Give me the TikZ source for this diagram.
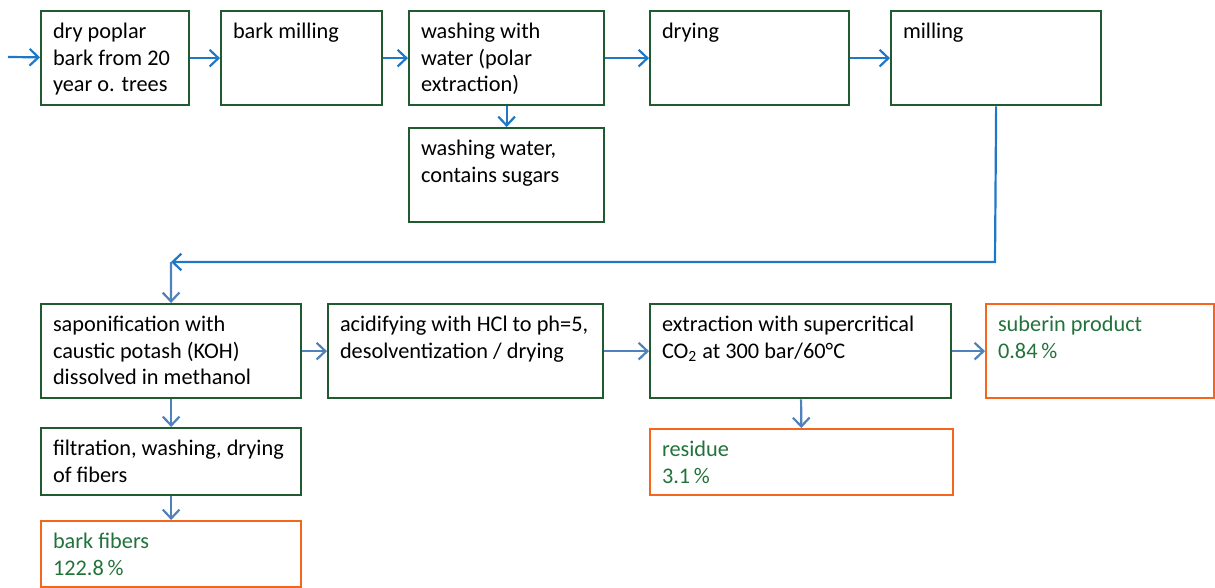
\documentclass[tikz,border=0pt]{standalone}
\usepackage{fontspec}
\setmainfont{Carlito}
\usepackage{tikz}
\usetikzlibrary{arrows.meta}
\definecolor{boxgreen}{HTML}{215A30}
\definecolor{outorange}{HTML}{F4661E}
\definecolor{outtext}{HTML}{23723C}
\definecolor{flowblue}{HTML}{1F77C6}
\definecolor{flowsteel}{HTML}{4F81BD}
\def\u{0.02cm}
\tikzset{
  box/.style={draw=boxgreen, line width=1.3pt, anchor=north west, inner sep=0pt},
  outbox/.style={box, draw=outorange},
  txt/.style={align=left, anchor=north west, inner xsep=7.2pt, inner ysep=7pt,
    font=\fontsize{12.7}{15.3}\selectfont},
  outtxt/.style={txt, text=outtext},
  flow/.style={draw=flowblue, line width=1.25pt, -{Straight Barb[length=5pt,width=9.5pt]}},
  flowl/.style={flow, draw=flowsteel},
}
\begin{document}
\begin{tikzpicture}[x=\u, y=-\u]
  \useasboundingbox (0,0) rectangle (1215,588);
  % first row
  \node[box, minimum width=148*\u, minimum height=94*\u,
    label={[txt]north west:dry poplar\\bark from 20\\year o. trees}] (bark) at (40,10) {};
  \node[box, minimum width=161*\u, minimum height=94*\u,
    label={[txt]north west:bark milling}] (bmill) at (220,10) {};
  \node[box, minimum width=195*\u, minimum height=94*\u,
    label={[txt]north west:washing with\\water (polar\\extraction)}] (wash) at (408,10) {};
  \node[box, minimum width=199*\u, minimum height=94*\u,
    label={[txt]north west:drying}] (dry) at (649,10) {};
  \node[box, minimum width=210*\u, minimum height=94*\u,
    label={[txt]north west:milling}] (mill) at (890,10) {};
  \node[box, minimum width=195*\u, minimum height=94*\u,
    label={[txt]north west:washing water,\\contains sugars}] (water) at (408,127) {};
  % second row
  \node[box, minimum width=260*\u, minimum height=94*\u,
    label={[txt]north west:saponification with\\caustic potash (KOH)\\dissolved in methanol}] (sapo) at (40,303) {};
  \node[box, minimum width=275*\u, minimum height=94*\u,
    label={[txt]north west:acidifying with HCl to ph=5,\\desolventization / drying}] (acid) at (327,303) {};
  \node[box, minimum width=301*\u, minimum height=94*\u,
    label={[txt]north west:extraction with supercritical\\CO\textsubscript{2} at 300 bar/60°C}] (extr) at (649,303) {};
  \node[outbox, minimum width=228*\u, minimum height=94*\u,
    label={[outtxt]north west:suberin product\\0.84\,\%}] (suberin) at (985,303) {};
  \node[box, minimum width=260*\u, minimum height=67*\u,
    label={[txt]north west:filtration, washing, drying\\of fibers}] (filt) at (40,427) {};
  \node[outbox, minimum width=260*\u, minimum height=66*\u,
    label={[outtxt]north west:bark fibers\\122.8\,\%}] (fibers) at (40,520) {};
  \node[outbox, minimum width=303*\u, minimum height=66*\u,
    label={[outtxt]north west:residue\\3.1\,\%}] (resid) at (649,428) {};
  % connectors
  \coordinate (feed) at (8,57);
  \coordinate (turnR) at (995,262);
  \coordinate (turnL) at (171,262);
  \draw[flow] (feed) -- (bark);
  \draw[flow] (bark) -- (bmill);
  \draw[flow] (bmill) -- (wash);
  \draw[flow] (wash) -- (dry);
  \draw[flow] (dry) -- (mill);
  \draw[flow] (wash) -- (water);
  \draw[flow] (mill.south) -- (turnR) -- (turnL);
  \draw[flowl] (turnL) -- (sapo);
  \draw[flowl] (sapo) -- (acid);
  \draw[flowl] (acid) -- (extr);
  \draw[flowl] (extr) -- (suberin);
  \draw[flowl] (sapo) -- (filt);
  \draw[flowl] (filt) -- (fibers);
  \draw[flowl] (extr) -- (resid);
\end{tikzpicture}
\end{document}
